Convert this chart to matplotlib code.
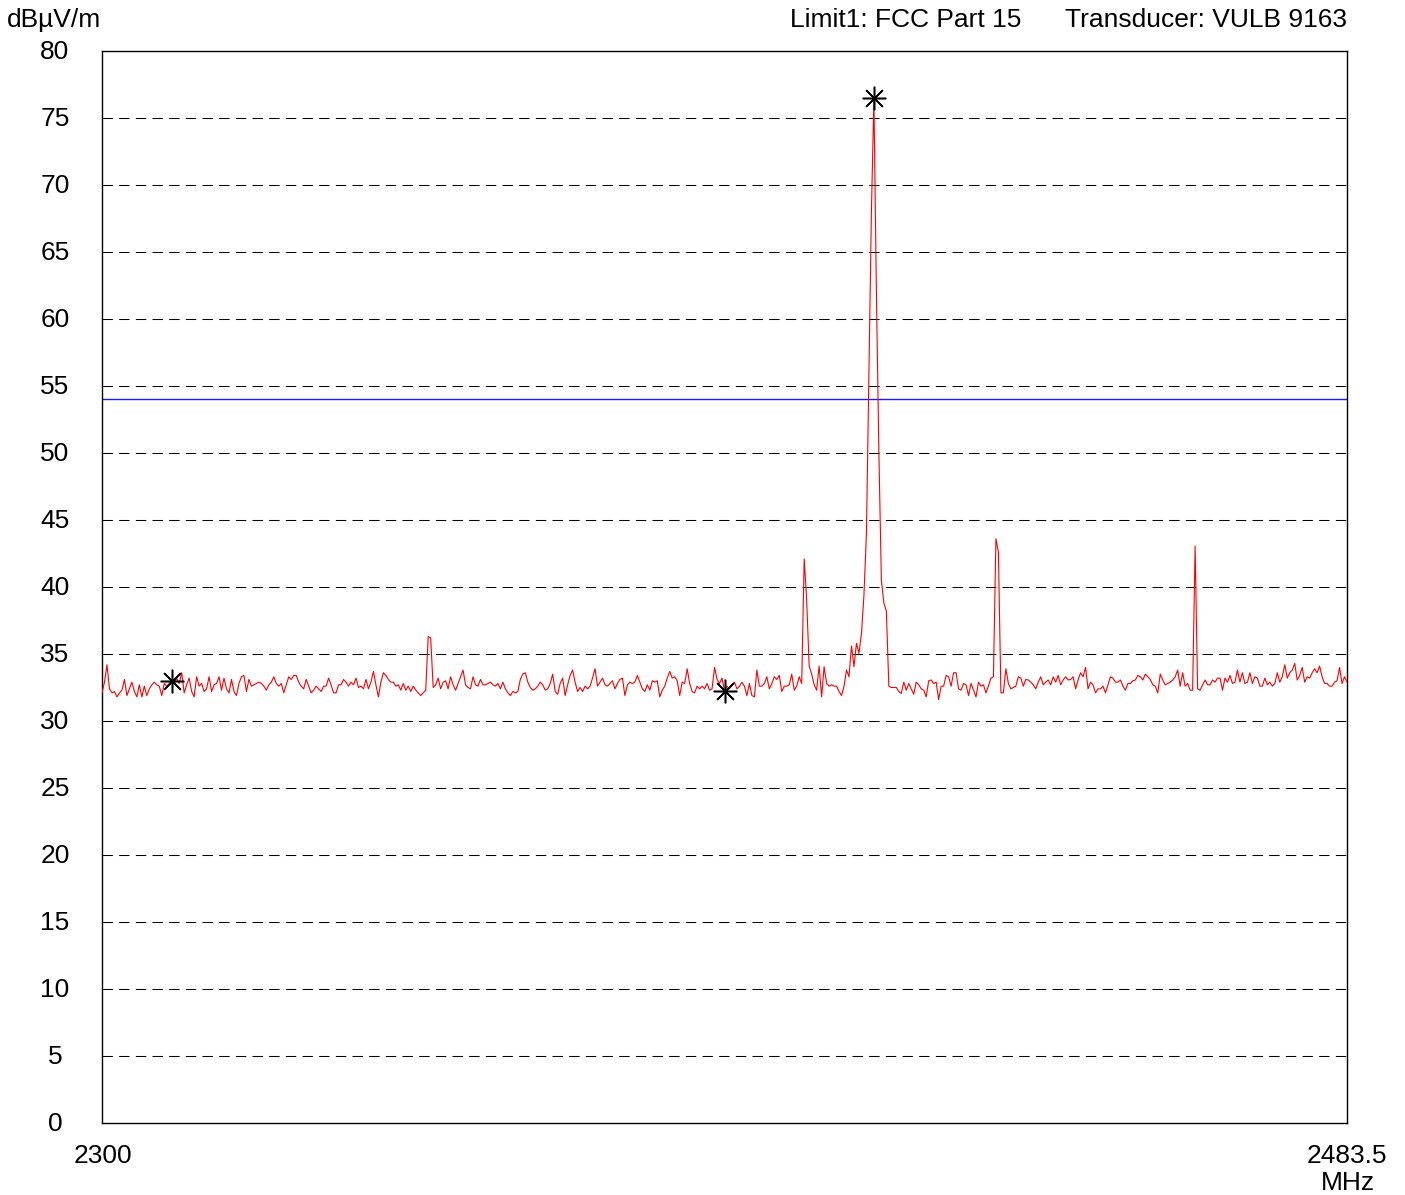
import numpy as np
import matplotlib
matplotlib.use("Agg")
import matplotlib.pyplot as plt

plt.rcParams['font.family'] = ['Liberation Sans', 'DejaVu Sans']

# sweep span (MHz) and the measured trace, one value per sweep point (dBuV/m)
f_start = 2300.0
f_stop = 2483.5
levels = [
    # 0-83
    32.1, 32.9, 34.2, 32.4, 32.1, 32.2, 31.8, 32.1, 32.3, 33.1,
    31.9, 32.4, 32.9, 32.2, 31.8, 32.7, 31.8, 32.6, 31.9, 32.4,
    32.7, 32.9, 32.7, 32.6, 31.9, 32.8, 32.6, 32.8, 33.0, 32.8,
    33.2, 32.8, 33.6, 32.1, 32.7, 33.2, 32.2, 31.8, 33.3, 32.6,
    32.8, 32.2, 32.4, 33.3, 32.2, 32.7, 32.8, 33.3, 32.3, 33.2,
    32.4, 32.1, 33.1, 32.2, 31.9, 32.8, 33.3, 33.4, 32.2, 33.1,
    32.6, 32.7, 32.8, 32.9, 32.8, 32.6, 32.3, 32.7, 32.9, 33.3,
    32.8, 32.6, 32.8, 32.1, 32.7, 33.3, 33.1, 33.4, 33.4, 32.9,
    32.6, 32.4, 33.1, 32.6,
    # 84-165
    32.1, 32.3, 32.6, 32.4, 32.2, 32.6, 32.6, 33.2, 32.7, 32.1,
    32.1, 32.7, 32.7, 33.1, 32.9, 32.6, 32.9, 32.7, 33.2, 32.5,
    32.6, 32.4, 33.1, 32.4, 32.9, 33.7, 32.7, 31.8, 32.9, 33.6,
    33.4, 33.1, 32.9, 32.9, 32.6, 32.7, 32.3, 32.8, 32.3, 32.6,
    32.2, 32.6, 32.3, 32.1, 31.9, 32.1, 32.3, 36.3, 36.2, 32.5,
    32.7, 33.2, 32.4, 32.9, 33.0, 32.4, 33.3, 32.7, 32.3, 32.8,
    33.3, 33.8, 32.7, 32.5, 32.4, 33.3, 32.7, 32.6, 33.1, 32.7,
    32.7, 32.8, 32.9, 32.7, 32.6, 32.8, 32.4, 32.9, 32.4, 32.1,
    31.9, 32.2,
    # 166-247
    32.1, 32.2, 33.1, 33.5, 33.6, 32.9, 32.5, 32.3, 32.4, 32.6,
    32.9, 32.7, 32.3, 32.4, 32.8, 33.5, 32.2, 32.0, 32.8, 33.2,
    31.9, 32.7, 33.4, 33.8, 32.9, 32.2, 32.5, 32.2, 32.6, 32.4,
    32.6, 33.2, 33.9, 32.6, 32.9, 33.2, 32.7, 32.6, 32.8, 33.0,
    32.4, 32.8, 33.1, 33.2, 31.9, 32.7, 32.9, 32.8, 32.9, 33.4,
    32.9, 32.4, 32.2, 32.7, 32.3, 33.0, 32.9, 33.0, 31.8, 32.3,
    32.6, 33.2, 33.7, 33.2, 33.3, 33.0, 31.9, 32.9, 32.8, 33.9,
    32.8, 32.2, 32.1, 32.6, 32.4, 32.6, 32.4, 32.8, 32.3, 32.4,
    34.0, 33.1,
    # 248-331
    32.8, 33.2, 32.25, 32.6, 32.4, 32.7, 32.9, 32.4, 32.6, 32.9,
    32.6, 31.9, 32.8, 31.9, 31.8, 33.8, 32.6, 32.6, 32.8, 33.3,
    32.4, 32.8, 33.3, 33.1, 33.4, 32.2, 32.6, 32.6, 32.7, 33.5,
    32.3, 32.6, 33.3, 32.8, 42.1, 39.0, 34.1, 33.5, 32.7, 32.3,
    34.1, 31.8, 34.05, 32.8, 32.6, 32.7, 32.6, 32.6, 32.2, 31.9,
    32.6, 33.8, 33.3, 35.6, 34.05, 35.8, 35.05, 36.5, 39.4, 44.0,
    56.0, 68.0, 76.5, 62.0, 50.0, 40.5, 38.8, 38.2, 32.6, 32.5,
    32.5, 32.5, 32.2, 32.06, 32.9, 32.3, 32.8, 32.4, 32.0, 32.9,
    32.7, 32.4, 32.3, 31.8,
    # 332-412
    33.0, 33.06, 32.8, 32.9, 31.6, 32.6, 32.6, 33.4, 33.3, 32.6,
    33.6, 33.6, 32.4, 32.3, 32.8, 32.7, 31.9, 32.8, 32.3, 31.8,
    32.9, 32.6, 32.7, 32.1, 32.6, 33.2, 33.3, 43.6, 42.6, 32.1,
    32.1, 33.9, 32.8, 32.4, 32.5, 32.6, 33.3, 33.2, 32.6, 33.1,
    33.06, 32.9, 32.7, 32.4, 32.9, 33.3, 32.7, 32.9, 33.06, 32.7,
    33.3, 32.9, 33.4, 32.7, 33.06, 33.3, 33.06, 33.1, 33.3, 32.4,
    33.06, 33.6, 33.3, 34.0, 32.4, 32.9, 32.7, 32.1, 32.4, 32.4,
    32.6, 32.1, 32.7, 33.3, 33.2, 32.9, 32.9, 33.06, 32.6, 32.3,
    32.8,
    # 413-500
    32.8, 33.0, 33.06, 33.4, 33.3, 33.06, 33.5, 33.3, 33.1, 32.7,
    32.6, 32.1, 33.5, 33.06, 32.7, 32.8, 32.9, 33.06, 33.3, 33.8,
    32.6, 33.6, 32.6, 32.8, 32.3, 32.3, 43.05, 32.4, 32.3, 32.7,
    33.06, 32.7, 32.7, 33.06, 32.9, 33.2, 33.2, 32.3, 33.2, 32.9,
    33.4, 32.8, 32.9, 33.8, 32.9, 33.6, 32.8, 32.9, 33.6, 32.8,
    33.3, 33.2, 32.6, 32.6, 33.2, 32.7, 32.9, 32.6, 32.8, 33.6,
    32.9, 33.3, 34.2, 33.2, 33.6, 33.8, 34.3, 33.06, 33.4, 34.0,
    32.9, 33.3, 33.2, 33.6, 33.9, 33.6, 34.1, 33.3, 32.8, 32.8,
    32.6, 32.6, 32.9, 33.0, 34.0, 32.8, 33.3, 32.9,
]
freq = np.linspace(f_start, f_stop, len(levels))

marker_idx = [28, 250, 310]   # marker positions on the trace
limit_level = 54.0            # FCC Part 15 limit line
y_ticks = list(range(0, 81, 5))

fig = plt.figure(figsize=(14.05, 11.95), dpi=100)
ax = fig.add_axes([102 / 1405, 1 - 1123 / 1195, 1245 / 1405, 1072 / 1195])

# dashed reference lines every 5 dB
for y in y_ticks[1:-1]:
    ax.axhline(y, color='black', lw=0.75, linestyle=(0, (10, 6)), zorder=1)

ax.axhline(limit_level, color='#1a1aff', lw=1.0, zorder=2)
ax.plot(freq, levels, color='#ff0000', lw=0.8, zorder=3)

lv = np.array(levels)
ax.plot(freq[marker_idx], lv[marker_idx], linestyle='none',
        marker=(8, 2, 0), markersize=17, markeredgewidth=1.1,
        color='black', zorder=4)

ax.set_xlim(f_start, f_stop)
ax.set_ylim(0, 80)
ax.set_xticks([])
ax.set_yticks([])
for s in ax.spines.values():
    s.set_linewidth(1.0)
    s.set_color('black')

fs = 19
for y in y_ticks:
    ax.annotate(str(y), xy=(0, y), xycoords=('axes fraction', 'data'),
                xytext=(-47, -1), textcoords='offset pixels',
                ha='center', va='center', fontsize=fs)

ax.annotate('2300', xy=(0, 0), xycoords='axes fraction',
            xytext=(1, -33), textcoords='offset pixels',
            ha='center', va='center', fontsize=fs)
ax.annotate('2483.5', xy=(1, 0), xycoords='axes fraction',
            xytext=(0, -33), textcoords='offset pixels',
            ha='center', va='center', fontsize=fs)
ax.annotate('MHz', xy=(1, 0), xycoords='axes fraction',
            xytext=(1, -60), textcoords='offset pixels',
            ha='center', va='center', fontsize=fs)

fig.text(7 / 1405, 1 - 20 / 1195, 'dBµV/m', ha='left', va='center', fontsize=fs)
fig.text(1021 / 1405, 1 - 20 / 1195, 'Limit1: FCC Part 15',
         ha='right', va='center', fontsize=fs)
fig.text(1347 / 1405, 1 - 20 / 1195, 'Transducer: VULB 9163',
         ha='right', va='center', fontsize=fs)

fig.savefig('out.png', dpi=100, facecolor='white')
